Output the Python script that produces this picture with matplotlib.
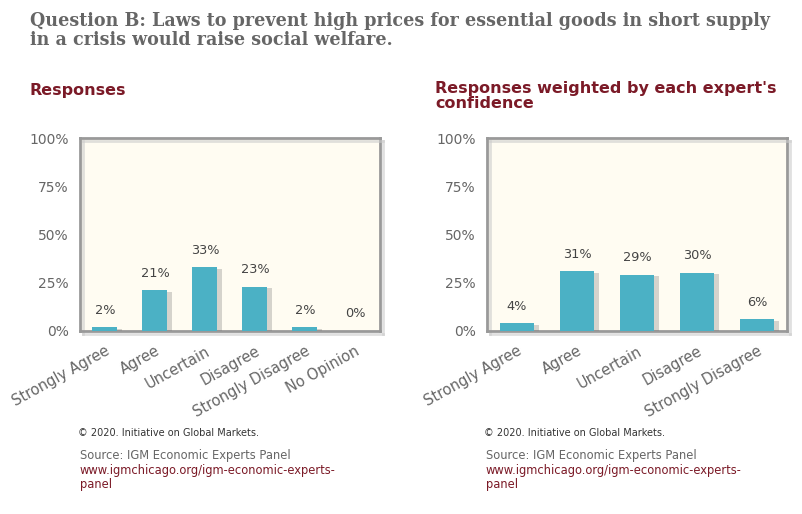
import matplotlib
matplotlib.use("Agg")
import matplotlib.pyplot as plt
import matplotlib.patheffects as pe

# data
cats_left = ["Strongly Agree", "Agree", "Uncertain", "Disagree", "Strongly Disagree", "No Opinion"]
vals_left = [2, 21, 33, 23, 2, 0]
cats_right = ["Strongly Agree", "Agree", "Uncertain", "Disagree", "Strongly Disagree"]
vals_right = [4, 31, 29, 30, 6]
yticks = [0, 25, 50, 75, 100]

title_lines = ["Question B: Laws to prevent high prices for essential goods in short supply",
               "in a crisis would raise social welfare."]

BAR = "#4bb1c5"
BG = "#fffcf2"
GRAY = "#666666"
RED = "#7b1a27"

fig = plt.figure(figsize=(8.03, 5.14), dpi=100)
W, H = 803, 514


def fx(px):
    return px / W


def fy(py):
    return 1 - py / H


def draw_panel(left_px, cats, vals, width):
    ax = fig.add_axes([fx(left_px), fy(331), 300 / W, 193 / H])
    ax.set_facecolor(BG)
    x = range(len(cats))
    bars = ax.bar(x, vals, width=width, color=BAR, zorder=3)
    for b in bars:
        b.set_path_effects([pe.SimplePatchShadow(offset=(3, -1), shadow_rgbFace="#777777", alpha=0.3),
                            pe.Normal()])
    for xi, v in zip(x, vals):
        ax.text(xi, v + 5.5, f"{v}%", ha="center", va="bottom", fontsize=9.3, color="#444444")
    ax.set_xlim(-0.5, len(cats) - 0.5)
    ax.set_ylim(0, 100)
    ax.set_yticks(yticks)
    ax.set_yticklabels([f"{t}%" for t in yticks], fontsize=10, color=GRAY)
    ax.set_xticks(list(x))
    ax.set_xticklabels(cats, rotation=29, ha="right", rotation_mode="anchor",
                       fontsize=10.5, color=GRAY)
    ax.tick_params(axis="both", length=0)
    ax.tick_params(axis="y", pad=8)
    ax.tick_params(axis="x", pad=9)
    for s in ax.spines.values():
        s.set_color("#999999")
        s.set_linewidth(2)
        s.set_path_effects([pe.SimpleLineShadow(offset=(2, -2), shadow_color="#cccccc", alpha=0.6),
                            pe.Normal()])
    return ax


draw_panel(80, cats_left, vals_left, 0.5)
draw_panel(487, cats_right, vals_right, 0.58)

# title: bold serif, sized so the first line spans about 740 px
renderer = fig.canvas.get_renderer()
t1 = fig.text(fx(30), fy(26), title_lines[0], ha="left", va="baseline", fontsize=14,
              fontweight="bold", family="DejaVu Serif", color=GRAY)
w = t1.get_window_extent(renderer).width
size = 14 * 740 / w
t1.set_fontsize(size)
fig.text(fx(30), fy(45), title_lines[1], ha="left", va="baseline", fontsize=size,
         fontweight="bold", family="DejaVu Serif", color=GRAY)

fig.text(fx(30), fy(90), "Responses", ha="left", va="center", fontsize=11.5,
         fontweight="bold", color=RED)
fig.text(fx(435), fy(81), "Responses weighted by each expert's\nconfidence", ha="left", va="top",
         fontsize=11.5, fontweight="bold", color=RED, linespacing=1.0)

for x0 in (78, 484):
    fig.text(fx(x0), fy(433), "\u00a9 2020. Initiative on Global Markets.", ha="left",
             va="center", fontsize=7, color="#333333")
    fig.text(fx(x0 + 2), fy(455), "Source: IGM Economic Experts Panel", ha="left",
             va="center", fontsize=8.3, color=GRAY)
    fig.text(fx(x0 + 2), fy(464), "www.igmchicago.org/igm-economic-experts-\npanel", ha="left",
             va="top", fontsize=8.3, color=RED, linespacing=1.1)

fig.savefig("out.png", dpi=100, facecolor="white")
